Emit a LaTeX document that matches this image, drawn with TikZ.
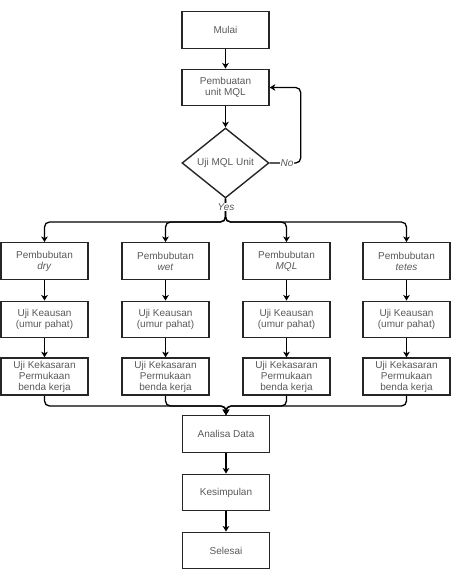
\documentclass[tikz,border=0pt]{standalone}
\usepackage{fontspec}
\setmainfont{Liberation Sans}
\usetikzlibrary{shapes.geometric,arrows.meta}
\begin{document}
\begin{tikzpicture}[x=1pt,y=-1pt,
  box/.style={draw=black!85,line width=1.4pt,rectangle,minimum width=87pt,minimum height=36.5pt,inner sep=0pt,align=center,text=black!65,font=\fontsize{10}{11}\selectfont},
  dia/.style={draw=black!85,line width=1.4pt,diamond,minimum width=87pt,minimum height=70pt,inner sep=0pt,text=black!65,font=\fontsize{10}{11}\selectfont},
  lbl/.style={fill=white,inner sep=1pt,text=black!65,font=\fontsize{10}{11}\selectfont\itshape},
  arr/.style={line width=1.3pt,-{Stealth[length=5.5pt,width=6.5pt,inset=1.5pt]}},
  ln/.style={line width=1.3pt}]
\useasboundingbox (0,0) rectangle (451,586);
\node[box] (mulai) at (225.5,30) {Mulai};
\node[box] (buat) at (225.5,87.5) {Pembuatan\\unit MQL};
\node[dia] (uji) at (225.5,163) {Uji MQL Unit};
\foreach \i/\x/\w in {1/44.5/dry,2/165.5/wet,3/286.5/MQL,4/406.5/tetes}{
  \node[box] (d\i) at (\x,261) {Pembubutan\\\textit{\w}};
  \node[box] (u\i) at (\x,319.5) {Uji Keausan\\(umur pahat)};
  \node[box,minimum height=37pt] (k\i) at (\x,376.5) {Uji Kekasaran\\Permukaan\\benda kerja};
  \draw[arr] (d\i) -- (u\i);
  \draw[arr] (u\i) -- (k\i);
}
\node[box] (ana) at (226,434) {Analisa Data};
\node[box] (kes) at (226,492.5) {Kesimpulan};
\node[box] (sel) at (226,550.5) {Selesai};
\coordinate (split) at (225.5,222);
\coordinate (join) at (226,406);
\draw[arr] (mulai) -- (buat);
\draw[arr] (buat) -- (uji);
\draw[arr,rounded corners=5pt] (uji.east) -- ++(31,0) |- (buat.east);
\node[lbl] (no) at (287,163) {No};
\foreach \i in {1,2,3,4}{
  \draw[arr,rounded corners=5pt] (uji.south) -- (split) -| (d\i.north);
  \draw[arr,rounded corners=5pt] (k\i.south) |- (join) -- (ana.north);
}
\node[lbl] (yes) at (226,207) {Yes};
\draw[arr] (ana) -- (kes);
\draw[arr] (kes) -- (sel);
\end{tikzpicture}
\end{document}
